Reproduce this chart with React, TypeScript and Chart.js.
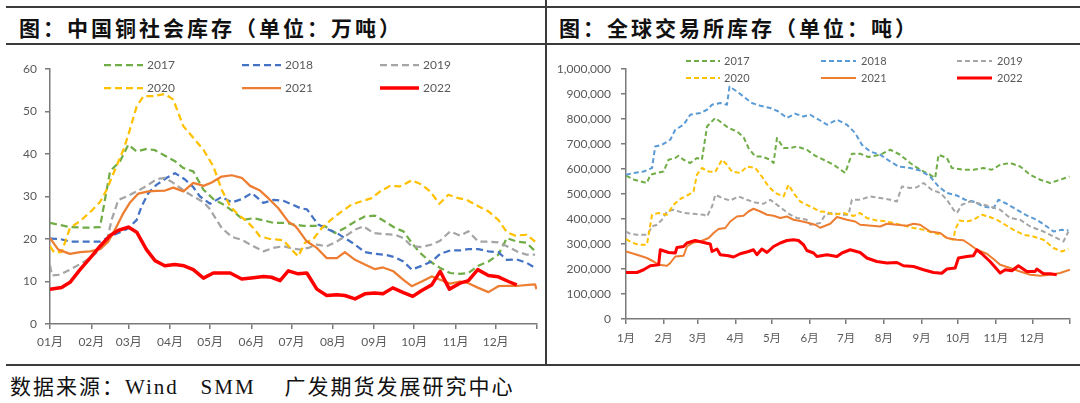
import React, { useEffect, useRef } from "react";
import { Chart, registerables } from "chart.js";

Chart.register(...registerables);

type Pt = [number, number];

// ---- shared axis data ----
const MONTH_STARTS = [0, 31, 59, 90, 120, 151, 181, 212, 243, 273, 304, 334, 365];
const CN_MONTH_LABELS = ["01月", "02月", "03月", "04月", "05月", "06月", "07月", "08月", "09月", "10月", "11月", "12月", ""];
const EX_MONTH_LABELS = ["1月", "2月", "3月", "4月", "5月", "6月", "7月", "8月", "9月", "10月", "11月", "12月", ""];
const YEARS = ["2017", "2018", "2019", "2020", "2021", "2022"];

// ---- left: China copper social inventory, [day of year, 万吨] ----
const cn2017: Pt[] = [[0,23.8],[15,22.8],[22.5,22.7],[30,22.7],[37.5,22.8],[45,35.9],[52.5,38.3],[58.7,42.2],[65,40.6],[72.5,41.2],[78.7,40.9],[86.2,39.6],[93.7,38.3],[100,36.7],[107.4,35.9],[115,31.6],[122.4,29.4],[130,28.1],[137.4,26.5],[145,24.5],[152.5,24.9],[160,24.4],[167.4,23.8],[177.4,23.8],[182.4,23.4],[189.9,23.1],[197.4,23.1],[206.2,23.0],[213.6,21.4],[221.1,22.6],[228.6,24.1],[236,25.3],[243.6,25.5],[251,24.1],[258.6,22.6],[264.9,21.8],[271.1,19.1],[277.4,16.7],[284.9,14.7],[292.4,13.2],[299.9,12.0],[307.3,11.8],[313.6,12.0],[321,13.7],[328.6,14.7],[336,16.3],[342.4,20.2],[349.8,19.4],[357.3,19.1],[363.6,17.1]];
const cn2018: Pt[] = [[0,20.1],[7.5,20.0],[15,19.4],[22.5,19.4],[30,19.4],[37.5,19.4],[45,20.6],[51.2,21.4],[58.7,22.5],[65,24.5],[68.7,27.7],[73.7,30.8],[80,32.8],[87.5,34.4],[93.7,35.5],[101.2,34.0],[107.4,32.2],[112.4,30.0],[120,28.3],[128.7,29.9],[136.2,28.6],[143.7,29.4],[151.2,30.8],[159.9,28.5],[167.4,29.2],[174.9,29.0],[182.4,28.0],[188.7,27.1],[192.5,27.0],[197.4,24.9],[201.1,23.4],[207.4,22.4],[215,21.4],[221,20.2],[228.6,18.7],[236,16.9],[243.6,16.5],[251,16.3],[258.6,15.7],[264.9,14.7],[271.1,12.8],[278.6,13.7],[286.1,14.7],[292.4,16.5],[299.9,17.3],[307.3,17.3],[313.6,17.6],[321,17.6],[328.6,17.1],[336,16.9],[342.4,15.1],[349.8,15.2],[357.3,14.4],[363.6,13.2]];
const cn2019: Pt[] = [[0,13.8],[1.5,11.4],[7.5,11.6],[15,12.8],[22.5,14.1],[30,15.5],[37.5,17.5],[42.5,19.4],[46.2,24.5],[51.2,29.2],[57.4,30.0],[65,31.2],[72.4,32.5],[80,34.1],[86.2,34.4],[92.4,33.2],[101.2,31.2],[107.4,30.0],[115,28.7],[120,27.0],[124,24.9],[128.7,22.6],[136.2,20.5],[143.7,19.8],[152.5,18.3],[160,17.1],[167.4,17.9],[174.9,18.3],[180,17.9],[187.4,17.5],[193.6,17.9],[200,18.7],[207.4,18.3],[215,19.4],[221,20.6],[228.6,22.2],[234.9,23.0],[242.4,21.4],[249.6,21.2],[258.6,21.0],[264.9,20.2],[271.1,18.3],[278.6,18.1],[286.1,18.7],[292.4,19.6],[299.9,21.8],[307.3,20.8],[313.6,21.8],[321,19.4],[328.6,19.4],[336,19.2],[342.4,18.3],[349.8,17.1],[357.3,16.3],[363.6,16.3]];
const cn2020: Pt[] = [[0,18.3],[3,16.9],[8.7,16.9],[15,22.6],[22.5,24.2],[30,26.3],[37.5,28.7],[42.5,31.6],[48.7,36.3],[55,41.0],[58.7,44.5],[65,51.2],[70,53.6],[77.4,53.6],[86.2,54.1],[92.4,52.8],[100,46.5],[107.4,43.8],[115,41.0],[122.4,37.1],[128.7,31.6],[135,27.7],[141.2,25.7],[147.4,24.2],[152.4,22.6],[157.4,20.6],[165,20.0],[174.9,19.7],[180,17.9],[186,15.9],[191.1,19.1],[197.4,20.0],[203.7,22.6],[211.2,24.7],[218.7,26.5],[226.1,28.1],[233.6,28.9],[241.1,29.6],[247.4,31.2],[254.9,32.5],[262.4,32.4],[271.1,33.8],[278.6,32.8],[284.9,31.2],[291.8,28.3],[298.6,30.4],[306.1,29.6],[312.4,29.2],[321,27.7],[328.6,26.5],[336,24.5],[342.4,21.6],[348.6,20.8],[357.3,21.0],[363.6,19.4]];
const cn2021: Pt[] = [[0,20.2],[6.2,17.5],[15,16.5],[22.5,16.9],[30,17.1],[37.5,17.6],[43.7,19.4],[48.7,22.2],[55,26.1],[60,28.6],[66.2,30.7],[73.7,31.2],[80,31.3],[86.2,31.4],[92.4,32.1],[100,31.2],[107.4,33.2],[115,32.5],[121.2,33.3],[128.7,34.7],[136.2,35.0],[143.7,34.4],[150,32.5],[157.4,31.4],[163.6,29.6],[171,27.3],[178.6,24.1],[184,23.0],[186,22.2],[192.5,19.4],[200,17.9],[207.4,15.5],[215,15.5],[221,16.9],[228.6,15.1],[236,14.0],[243.6,12.9],[249.6,13.3],[257.4,12.4],[264.9,10.4],[271.1,8.9],[278.6,10.0],[286.1,11.2],[292.4,10.4],[299.9,9.5],[307.3,10.0],[313.6,9.6],[321,8.5],[328.6,7.5],[336,8.9],[343.6,9.0],[351.1,9.0],[358.6,9.2],[363.6,9.3],[364.6,8.2]];
const cn2022: Pt[] = [[0,8.2],[8.7,8.6],[15,9.8],[22.5,12.8],[30,15.5],[37.5,18.3],[45,20.8],[51,22.0],[58.7,22.8],[65,21.6],[72.3,17.5],[78.7,14.9],[86,13.7],[93.5,14.0],[100.5,13.7],[107.4,12.8],[115,10.8],[122.4,12.0],[135,12.0],[143.7,10.6],[152.5,10.9],[160,11.2],[166,11.0],[172.4,10.2],[178.6,12.5],[186,11.8],[192.5,12.0],[200,8.2],[207.4,6.7],[215,6.9],[221,6.7],[228.6,5.9],[236,7.1],[243.4,7.3],[249.6,7.1],[256.9,8.5],[264.9,7.4],[271.9,6.5],[278.6,7.9],[286.1,9.2],[292.4,12.4],[299.3,8.2],[307.3,9.6],[313.6,10.2],[320.6,12.8],[328.6,11.4],[336,11.1],[343.6,10.0],[349.8,9.2]];

// ---- right: global exchange inventory, [day of year, 吨] ----
const ex2017: Pt[] = [[0,573000],[6.8,557000],[17.2,544000],[20,577000],[25.4,584000],[30.9,590000],[35,637000],[40.5,644000],[43.2,653000],[47.3,637000],[52.8,624000],[58.3,644000],[62.4,637000],[66.6,770000],[73.4,804000],[78.9,784000],[84.3,764000],[91.2,750000],[96.6,728000],[100.7,684000],[106.2,650000],[111.7,650000],[118.6,637000],[121.3,624000],[124.1,724000],[129.5,684000],[134.9,684000],[140.5,690000],[148.7,677000],[155.5,653000],[162.4,637000],[170.6,617000],[180.2,584000],[185.7,661000],[192.5,661000],[199.3,648000],[209,657000],[217.2,677000],[225.4,657000],[233.6,624000],[241.8,597000],[250,577000],[254.2,564000],[256.9,657000],[263.8,644000],[267.9,604000],[277.4,597000],[285.6,597000],[293.8,604000],[300.6,597000],[307.6,617000],[315.8,624000],[324,610000],[332.3,577000],[340.5,557000],[348.7,544000],[356.9,557000],[364.5,570000]];
const ex2018: Pt[] = [[0,577000],[6.2,584000],[14.5,590000],[21.4,604000],[24,690000],[29.6,697000],[36.4,717000],[40.5,757000],[47.3,777000],[52.8,817000],[61,824000],[66.6,837000],[70.7,857000],[77.5,864000],[83,857000],[85.1,930000],[91.2,910000],[96.6,890000],[103.5,864000],[110.4,853000],[118.6,844000],[125.4,830000],[132.3,804000],[139.1,821000],[145.9,810000],[151.4,817000],[159.7,794000],[165.2,777000],[173.4,797000],[181.6,777000],[188.4,744000],[193.9,697000],[200.7,670000],[209,657000],[217.2,630000],[224,610000],[233.6,604000],[241.8,594000],[250,570000],[256.9,530000],[263.8,504000],[272,494000],[278.8,477000],[285.6,470000],[293.8,450000],[302.1,444000],[306.2,477000],[313,461000],[321.3,437000],[329.5,414000],[337.7,397000],[345.9,370000],[351.4,350000],[358.3,357000],[363.7,354000]];
const ex2019: Pt[] = [[0,350000],[3.6,340000],[9,337000],[17.2,337000],[20,357000],[21,370000],[25.5,377000],[29.6,397000],[33.7,430000],[39.1,437000],[47.3,424000],[55.5,421000],[63.8,417000],[66.6,410000],[70.7,450000],[73.4,497000],[78.9,484000],[85.7,474000],[92.5,490000],[99.4,477000],[106.2,466000],[113.1,461000],[118.6,477000],[124.1,457000],[129.5,437000],[135,417000],[140.5,404000],[148.7,397000],[151.4,377000],[159.7,384000],[163.8,417000],[169.3,424000],[178.8,417000],[182.9,417000],[185.7,477000],[192.5,477000],[200.7,490000],[209,484000],[217.2,477000],[222.7,470000],[226.8,530000],[233.6,524000],[239.1,527000],[244.6,544000],[251.4,517000],[258.3,504000],[263.8,477000],[269.2,437000],[272,424000],[276.1,457000],[282.9,470000],[291.1,461000],[299.3,450000],[307.6,437000],[315.8,404000],[324,397000],[332.3,370000],[343.2,350000],[351.4,330000],[359.6,310000],[363.7,350000]];
const ex2020: Pt[] = [[0,320000],[4.9,306000],[10.4,297000],[17.2,297000],[21.4,417000],[26.8,424000],[33.7,417000],[39.1,457000],[44.6,480000],[51.4,497000],[55.5,510000],[58.3,577000],[62.4,604000],[67.9,590000],[73.4,588000],[78.9,637000],[83,617000],[87.1,590000],[93.9,584000],[99.4,610000],[106.2,604000],[111.7,570000],[117.2,530000],[122.7,504000],[129.5,490000],[133.6,537000],[137.7,504000],[143.2,470000],[151.4,450000],[159.7,430000],[165.2,428000],[170.6,417000],[178.8,424000],[187,412000],[192.5,424000],[198,404000],[206.2,394000],[214.5,390000],[225.4,377000],[236.4,364000],[244.6,357000],[252.8,344000],[259.6,337000],[263.8,324000],[269.2,317000],[270.6,357000],[274.1,394000],[280.2,390000],[285.6,397000],[292.5,417000],[298,410000],[304.8,397000],[311.7,377000],[318.5,357000],[326.7,337000],[334.9,330000],[343.2,317000],[351.4,284000],[358.3,270000],[363.7,280000]];
const ex2021: Pt[] = [[0,270000],[9,257000],[17.2,244000],[22.7,230000],[26.8,217000],[33.7,213000],[36.4,224000],[40.5,250000],[47.3,253000],[50.1,290000],[55.5,306000],[61,310000],[67.9,324000],[72,344000],[76.1,360000],[81.6,364000],[85.7,390000],[91.2,410000],[96.6,413000],[100.7,430000],[104.8,441000],[110.4,430000],[115.9,417000],[121.3,413000],[126.8,404000],[132.3,410000],[137.7,397000],[143.2,392000],[148.7,386000],[155.5,377000],[159.7,365000],[167.9,381000],[173.4,408000],[181.6,397000],[188.4,390000],[192.5,377000],[202.1,373000],[209,370000],[214.5,381000],[222.7,377000],[230.9,373000],[236.4,381000],[241.8,377000],[250,350000],[258.3,344000],[263.8,324000],[272,317000],[277.4,315000],[282.9,297000],[288.4,277000],[296.6,261000],[302.1,240000],[307.6,217000],[315.8,204000],[324,190000],[332.3,177000],[340.5,173000],[348.7,177000],[356.9,184000],[365,197000]];
const ex2022: Pt[] = [[0,186000],[9,186000],[14.5,197000],[20,213000],[26.8,217000],[28.2,277000],[35,266000],[40.5,264000],[41.9,286000],[47.3,290000],[50.1,304000],[56.9,314000],[63.8,306000],[69.3,300000],[70.7,270000],[74.8,280000],[77.5,257000],[84.3,253000],[88.4,248000],[93.9,261000],[100.7,270000],[104.8,277000],[107.6,257000],[111.7,280000],[115.9,266000],[121.3,290000],[126.8,304000],[132.3,314000],[137.7,317000],[141.8,314000],[145.9,297000],[148.7,274000],[154.2,264000],[157,250000],[165.2,257000],[173.4,250000],[177.5,264000],[184.3,277000],[192.5,266000],[198,244000],[206.2,230000],[214.5,224000],[222.7,226000],[228.1,213000],[236.4,210000],[244.6,197000],[252.8,186000],[259.6,183000],[263.8,200000],[270.6,204000],[273.3,244000],[280.2,250000],[285.6,253000],[288.4,277000],[292.5,261000],[299.3,230000],[307.6,184000],[311.7,197000],[317.2,193000],[322.6,213000],[329.5,190000],[336.3,190000],[337.7,200000],[343.2,181000],[348.7,181000],[354.1,177000]];

const CN_SERIES = [cn2017, cn2018, cn2019, cn2020, cn2021, cn2022];
const EX_SERIES = [ex2017, ex2018, ex2019, ex2020, ex2021, ex2022];

const AXIS_FONT = "Lato, 'Noto Sans CJK SC', sans-serif";
const TEXT_COLOR = "#595959";
const AXIS_COLOR = "#7a7a7a";

interface Style { color: string; width: number; dash: number[]; }

const CN_STYLES: Style[] = [
  { color: "#70AD47", width: 2.25, dash: [7, 4] },
  { color: "#4472C4", width: 2.25, dash: [7, 4] },
  { color: "#A5A5A5", width: 2.25, dash: [7, 4] },
  { color: "#FFC000", width: 2.25, dash: [7, 4] },
  { color: "#ED7D31", width: 2.25, dash: [] },
  { color: "#FF0000", width: 3.5, dash: [] },
];
const EX_STYLES: Style[] = [
  { color: "#70AD47", width: 2, dash: [5, 3] },
  { color: "#5B9BD5", width: 2, dash: [5, 3] },
  { color: "#A5A5A5", width: 2, dash: [5, 3] },
  { color: "#FFC000", width: 2, dash: [5, 3] },
  { color: "#ED7D31", width: 2, dash: [] },
  { color: "#FF0000", width: 3, dash: [] },
];

interface LegendLayout {
  cols: { lineStart: number; lineEnd: number; text: number }[];
  rows: number[];
  fontSize: number;
}

function makeLegendPlugin(layout: LegendLayout, styles: Style[]) {
  return {
    id: "gridLegend",
    afterDraw(chart: any) {
      const ctx = chart.ctx as CanvasRenderingContext2D;
      ctx.save();
      ctx.font = `${layout.fontSize}px ${AXIS_FONT}`;
      ctx.textBaseline = "middle";
      YEARS.forEach((label, i) => {
        const c = layout.cols[i % 3];
        const y = layout.rows[Math.floor(i / 3)];
        const s = styles[i];
        ctx.beginPath();
        ctx.strokeStyle = s.color;
        ctx.lineWidth = s.width;
        ctx.setLineDash(s.dash);
        ctx.moveTo(c.lineStart, y);
        ctx.lineTo(c.lineEnd, y);
        ctx.stroke();
        ctx.setLineDash([]);
        ctx.fillStyle = TEXT_COLOR;
        ctx.fillText(label, c.text, y + 0.5);
      });
      ctx.restore();
    },
  };
}

interface PanelProps {
  left: number; top: number; width: number; height: number;
  series: Pt[][]; styles: Style[];
  yMax: number; yStep: number; yWidth: number; xHeight: number;
  padding: { top: number; right: number; left: number; bottom: number };
  monthLabels: string[]; xFontSize: number; yFontSize: number;
  yFormat: (v: number) => string;
  legend: LegendLayout;
  yPad: number; xPad: number;
}

function Panel(p: PanelProps) {
  const ref = useRef<HTMLCanvasElement>(null);
  useEffect(() => {
    const gridOpts = {
      display: true, drawOnChartArea: false, drawTicks: true, tickLength: 5,
      color: AXIS_COLOR, lineWidth: 1.5,
    };
    const chart = new Chart(ref.current!, {
      type: "line",
      data: {
        datasets: p.series.map((s, i) => ({
          label: YEARS[i],
          data: s.map(([x, y]) => ({ x, y })),
          borderColor: p.styles[i].color,
          backgroundColor: p.styles[i].color,
          borderWidth: p.styles[i].width,
          borderDash: p.styles[i].dash,
          borderJoinStyle: "round" as const,
          pointRadius: 0,
          tension: 0,
          fill: false,
          order: 5 - i,
        })),
      },
      options: {
        animation: false,
        responsive: false,
        layout: { padding: p.padding },
        plugins: { legend: { display: false }, tooltip: { enabled: false } },
        scales: {
          x: {
            type: "linear", min: 0, max: 365,
            afterBuildTicks: (s: any) => { s.ticks = MONTH_STARTS.map((v) => ({ value: v })); },
            afterFit: (s: any) => { s.height = p.xHeight; },
            ticks: {
              autoSkip: false, maxRotation: 0, padding: p.xPad, color: TEXT_COLOR,
              font: { family: AXIS_FONT, size: p.xFontSize },
              callback: (_v: any, i: number) => p.monthLabels[i] ?? "",
            },
            grid: gridOpts,
            border: { display: true, color: AXIS_COLOR, width: 1.5 },
          },
          y: {
            min: 0, max: p.yMax,
            afterFit: (s: any) => { s.width = p.yWidth; },
            ticks: {
              stepSize: p.yStep, padding: p.yPad, color: TEXT_COLOR,
              font: { family: AXIS_FONT, size: p.yFontSize },
              callback: (v: any) => p.yFormat(Number(v)),
            },
            grid: gridOpts,
            border: { display: true, color: AXIS_COLOR, width: 1.5 },
          },
        },
      },
      plugins: [makeLegendPlugin(p.legend, p.styles)],
    } as any);
    return () => chart.destroy();
  }, []);
  return (
    <canvas
      ref={ref}
      width={p.width}
      height={p.height}
      style={{ position: "absolute", left: p.left, top: p.top, width: p.width, height: p.height, display: "block" }}
    />
  );
}

const TITLE_FONT = "'Noto Sans CJK SC', sans-serif";
const titleStyle: React.CSSProperties = {
  position: "absolute", top: 14, fontFamily: TITLE_FONT, fontWeight: 700, fontSize: 21,
  letterSpacing: 3, lineHeight: "26px", color: "#111", whiteSpace: "nowrap",
};

export default function App() {
  const line = (style: React.CSSProperties) => (
    <div style={{ position: "absolute", background: "#3b3b3b", ...style }} />
  );
  return (
    <div style={{ position: "absolute", left: 0, top: 0, width: 1080, height: 403, background: "#fff", overflow: "hidden" }}>
      {line({ left: 6, top: 6, width: 1074, height: 2 })}
      {line({ left: 6, top: 43, width: 1074, height: 2 })}
      {line({ left: 6, top: 364, width: 1074, height: 2 })}
      {line({ left: 545, top: 0, width: 1.5, height: 365 })}
      <div style={{ ...titleStyle, left: 19 }}>图：中国铜社会库存（单位：万吨）</div>
      <div style={{ ...titleStyle, left: 559 }}>图：全球交易所库存（单位：吨）</div>
      <Panel
        left={0} top={45} width={545} height={320}
        series={CN_SERIES} styles={CN_STYLES}
        yMax={60} yStep={10} yWidth={50} xHeight={41}
        padding={{ top: 24, right: 8, left: 0, bottom: 0 }}
        monthLabels={CN_MONTH_LABELS} xFontSize={12} yFontSize={12}
        yFormat={(v) => String(v)} yPad={8} xPad={6}
        legend={{
          cols: [
            { lineStart: 104, lineEnd: 143, text: 147 },
            { lineStart: 242, lineEnd: 281, text: 285 },
            { lineStart: 380, lineEnd: 419, text: 423 },
          ],
          rows: [20, 43], fontSize: 12,
        }}
      />
      <Panel
        left={546} top={45} width={534} height={320}
        series={EX_SERIES} styles={EX_STYLES}
        yMax={1000000} yStep={100000} yWidth={80} xHeight={46}
        padding={{ top: 24, right: 10, left: 0, bottom: 0 }}
        monthLabels={EX_MONTH_LABELS} xFontSize={11.5} yFontSize={12}
        yFormat={(v) => v.toLocaleString("en-US")} yPad={10} xPad={7}
        legend={{
          cols: [
            { lineStart: 140, lineEnd: 174, text: 178 },
            { lineStart: 275, lineEnd: 310, text: 315 },
            { lineStart: 411, lineEnd: 446, text: 451 },
          ],
          rows: [16, 33], fontSize: 11,
        }}
      />
      <div style={{ position: "absolute", left: 10, top: 375, fontFamily: "'Liberation Serif', 'Noto Sans CJK SC', serif", fontSize: 21, letterSpacing: 2, lineHeight: "25px", color: "#111", whiteSpace: "pre" }}>
        {"数据来源：Wind   SMM    广发期货发展研究中心"}
      </div>
    </div>
  );
}
